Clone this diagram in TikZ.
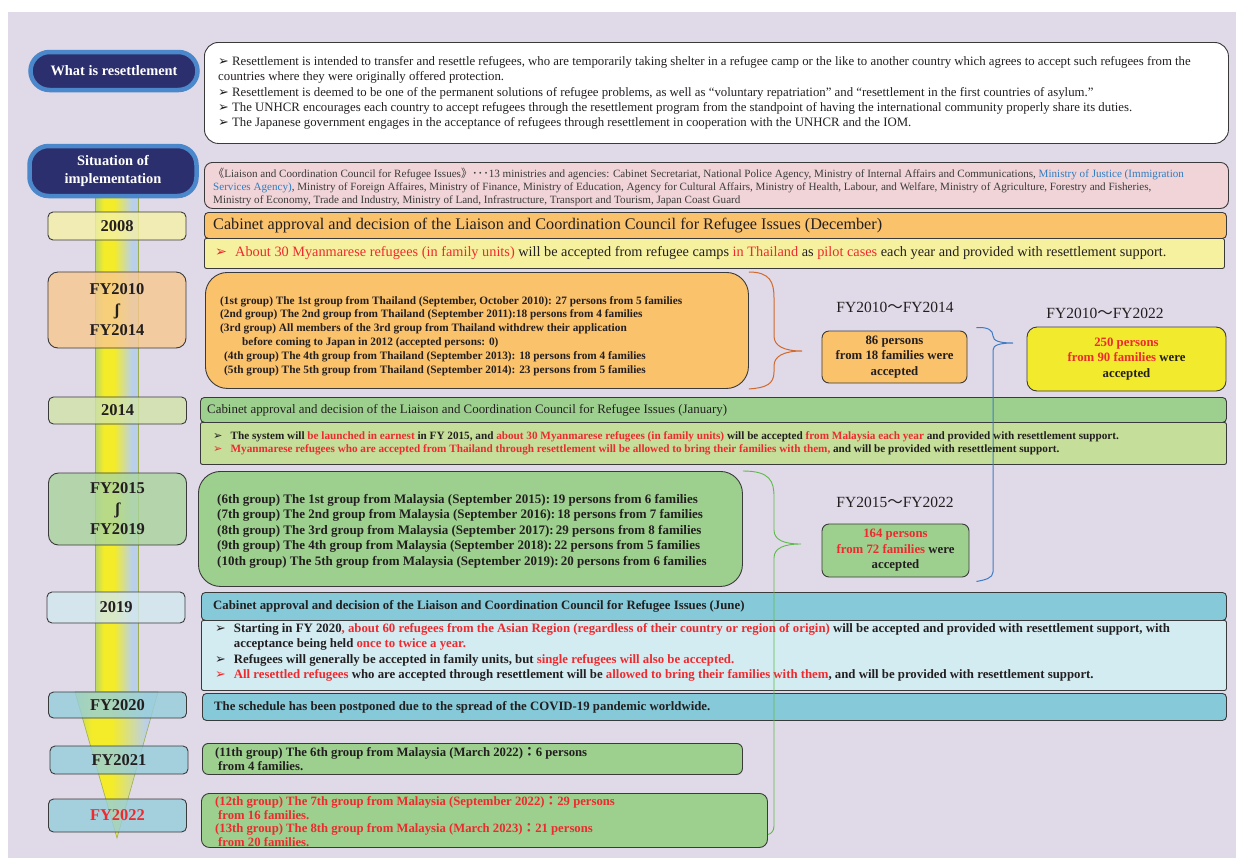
\documentclass[tikz,border=0pt]{standalone}
\usepackage{fontspec}
\setmainfont{Liberation Serif}
\newfontfamily\cjk{Noto Sans CJK JP}
\newfontfamily\dejavu{DejaVu Sans}
\usetikzlibrary{positioning,calc}

\definecolor{canvas}{HTML}{E0D9E7}
\definecolor{ink}{HTML}{231F20}
\definecolor{hot}{HTML}{EE2A2E}
\definecolor{navy}{HTML}{2C2F6D}
\definecolor{pillrim}{HTML}{4B88CB}
\definecolor{edge}{HTML}{3A3A3A}
\definecolor{pinkbg}{HTML}{F0D4D7}
\definecolor{greytxt}{HTML}{3B3B3B}
\definecolor{jblue}{HTML}{2F7DC1}
\definecolor{orangeH}{HTML}{FBC26C}
\definecolor{orangeY}{HTML}{F8C890}
\definecolor{yellowL}{HTML}{F6F19E}
\definecolor{yellowY}{HTML}{F5F1A6}
\definecolor{yellowS}{HTML}{F2EA2D}
\definecolor{greenH}{HTML}{9DD08E}
\definecolor{greenL}{HTML}{C5DF9A}
\definecolor{greenY}{HTML}{D2E4A9}
\definecolor{greenY2}{HTML}{AAD59D}
\definecolor{cyanH}{HTML}{86CAD9}
\definecolor{cyanL}{HTML}{D3ECF2}
\definecolor{cyanY}{HTML}{D3E8EF}
\definecolor{cyanY2}{HTML}{96CEDC}
\definecolor{barG}{HTML}{B8D66C}
\definecolor{barY}{HTML}{F4EC28}
\definecolor{barB}{HTML}{BAD0EA}
\definecolor{barE}{HTML}{9DAE4E}
\definecolor{braceO}{HTML}{D06A2E}
\definecolor{braceB}{HTML}{3F7CC4}
\definecolor{braceG}{HTML}{5DBB4A}

\pgfdeclarehorizontalshading{tlbar}{100bp}{color(0bp)=(barG); color(25bp)=(barG); color(35bp)=(barY); color(47bp)=(barY); color(68bp)=(barB); color(75bp)=(barB); color(100bp)=(barB)}

\newcommand{\fs}[2]{\fontsize{#1}{#2}\selectfont}
\newcommand{\rd}[1]{\textcolor{hot}{#1}}
\newcommand{\tbul}{{\dejavu\char"27A2}\ }
\newcommand{\bul}[1][ink]{\textcolor{#1}{\dejavu\char"27A2}\hspace{8pt}}
\newcommand{\nobul}{\phantom{\dejavu\char"27A2}\hspace{8pt}}

\begin{document}
\begin{tikzpicture}[
  x=1pt, y=-1pt,
  pill/.style={draw=pillrim, line width=4.5pt, fill=navy, rounded corners=19pt, text=white, align=center, minimum width=167pt, inner sep=0pt, font=\bfseries\fs{14.4}{18}},
  yearbox/.style={draw=edge, line width=0.9pt, rounded corners=5pt, fill opacity=0.8, text opacity=1, minimum width=138pt, inner sep=0pt, align=center, text=ink, font=\bfseries\fs{16.5}{20.5}},
  panel/.style={draw=edge, line width=0.9pt, rounded corners=4pt, anchor=north west, inner sep=0pt},
  txt/.style={inner sep=0pt, align=left, text=ink},
  span/.style={inner sep=0pt, text=ink, font=\fs{15.5}{17}},
  total/.style={draw=edge, line width=0.9pt, rounded corners=7pt, inner sep=0pt, align=center, text=ink, font=\bfseries\fs{12.8}{15.5}},
  obrace/.style={draw=braceO, line width=1pt},
  bbrace/.style={draw=braceB, line width=1pt},
  gbrace/.style={draw=braceG, line width=0.9pt}
]
\useasboundingbox (0,0) rectangle (1242,863);
\fill[white] (0,0) rectangle (1242,863);
\fill[canvas] (8,12) rectangle (1236,858);

% timeline bar
\shade[shading=tlbar, draw=barE, line width=0.5pt] (95,197) rectangle (138,692);
\shade[shading=tlbar, draw=barE, line width=0.6pt] (75,692) -- (158,692) -- (117,838) -- cycle;

% headings
\node[pill, minimum height=38pt] (pwhat) at (114,71) {What is resettlement};
\node[pill, minimum height=50pt] (psit) at (113,171) {Situation of\\implementation};

% year boxes
\node[yearbox, fill=yellowY, minimum height=28pt] (y2008) at (117,226) {2008};
\node[yearbox, fill=orangeY, minimum height=76pt, rounded corners=10pt] (yA) at (117,310) {FY2010\\ʃ\\FY2014};
\node[yearbox, fill=greenY, minimum height=27pt] (y2014) at (117.5,410.5) {2014};
\node[yearbox, fill=greenY2, minimum height=72pt, rounded corners=10pt] (yB) at (117.5,509) {FY2015\\ʃ\\FY2019};
\node[yearbox, fill=cyanY, minimum height=31pt] (y2019) at (116,607.5) {2019};
\node[yearbox, fill=cyanY2, minimum height=26pt] (y2020) at (117.5,705) {FY2020};
\node[yearbox, fill=cyanY2, minimum height=28pt] (y2021) at (119,760) {FY2021};
\node[yearbox, fill=cyanY2, minimum height=33pt] (y2022) at (117.5,815.5) {\rd{FY2022}};

% panels
\node[panel, fill=white, rounded corners=14pt, minimum width=1024pt, minimum height=101pt] (whatbox) at (204,42) {};
\node[panel, fill=pinkbg, rounded corners=8pt, minimum width=1024pt, minimum height=46pt] (council) at (204,162) {};
\node[panel, fill=orangeH, minimum width=1022pt, minimum height=26pt] (h2008) at (204,212) {};
\node[panel, fill=yellowL, rounded corners=2pt, minimum width=1020pt, minimum height=30pt] (b2008) at (204,238) {};
\node[panel, fill=orangeH, rounded corners=22pt, minimum width=543pt, minimum height=116pt] (fyA) at (205,272) {};
\node[panel, fill=greenH, minimum width=1026pt, minimum height=25pt] (h2014) at (200,397) {};
\node[panel, fill=greenL, rounded corners=2pt, minimum width=1026pt, minimum height=42pt] (b2014) at (200,422) {};
\node[panel, fill=greenH, rounded corners=22pt, minimum width=544pt, minimum height=115pt] (fyB) at (198,471) {};
\node[panel, fill=cyanH, minimum width=1025pt, minimum height=28pt] (h2019) at (201,592) {};
\node[panel, fill=cyanL, rounded corners=2pt, minimum width=1025pt, minimum height=70pt] (b2019) at (201,620) {};
\node[panel, fill=cyanH, minimum width=1024pt, minimum height=27pt] (c2020) at (202,693) {};
\node[panel, fill=greenH, rounded corners=6pt, minimum width=540pt, minimum height=31pt] (fyC) at (202,743) {};
\node[panel, fill=greenH, rounded corners=8pt, minimum width=566pt, minimum height=54pt] (fyD) at (201,793) {};

% totals
\node[total, fill=orangeH, minimum width=145pt, minimum height=52pt] (n86) at (894.5,357) {86 persons\\from 18 families were\\accepted};
\node[total, fill=yellowS, rounded corners=10pt, minimum width=199pt, minimum height=64pt] (n250) at (1126.5,359) {\rd{250 persons}\\\rd{from 90 families} were\\accepted};
\node[total, fill=greenH, minimum width=147pt, minimum height=53pt] (n164) at (895.5,550.5) {\rd{164 persons}\\\rd{from 72 families} were\\accepted};
\node[span] (spanA) at (895,307) {FY2010{\cjk ～}FY2014};
\node[span] (spanC) at (1105,313) {FY2010{\cjk ～}FY2022};
\node[span] (spanB) at (895,502) {FY2015{\cjk ～}FY2022};

% braces
\coordinate (otip) at (802,351);
\coordinate (btip) at (1013,343);
\coordinate (gtip) at (801,544);
\draw[obrace] (fyA.north east) .. controls (770,272) and (774,282) .. (774,298) -- (774,336) .. controls (774,346) and (784,351) .. (otip) .. controls (784,351) and (774,356) .. (774,366) -- (774,372) .. controls (774,384) and (766,388) .. (fyA.south east);
\draw[bbrace] ($(n86.north east)+(9,-3)$) .. controls (988,327) and (993,330) .. (993,336) .. controls (993,341) and (1000,343) .. (btip) .. controls (1000,343) and (993,345) .. (993,350) -- (993,572) .. controls (993,578) and (985,580) .. ($(n164.south east)+(7,4)$);
\draw[gbrace] (fyB.north east) .. controls (770,471) and (774,481) .. (774,497) -- (774,530) .. controls (774,540) and (784,544) .. (gtip) .. controls (784,544) and (774,548) .. (774,558) -- (774,826) .. controls (774,831) and (771,834) .. ($(fyD.east)+(0,14)$);

% texts
\node[txt, right=14pt of whatbox.west, font=\fs{12.8}{15.2}] (whattxt) {\tbul Resettlement is intended to transfer and resettle refugees, who are temporarily taking shelter in a refugee camp or the like to another country which agrees to accept such refugees from the\\countries where they were originally offered protection.\\\tbul Resettlement is deemed to be one of the permanent solutions of refugee problems, as well as “voluntary repatriation” and “resettlement in the first countries of asylum.”\\\tbul The UNHCR encourages each country to accept refugees through the resettlement program from the standpoint of having the international community properly share its duties.\\\tbul The Japanese government engages in the acceptance of refugees through resettlement in cooperation with the UNHCR and the IOM.};
\node[txt, right=9pt of council.west, yshift=-2pt, text=greytxt, font=\fs{11.1}{13}] (counciltxt) {{\cjk 《}Liaison and Coordination Council for Refugee Issues{\cjk 》･･･}13 ministries and agencies: Cabinet Secretariat, National Police Agency, Ministry of Internal Affairs and Communications, \textcolor{jblue}{Ministry of Justice (Immigration}\\\textcolor{jblue}{Services Agency)}, Ministry of Foreign Affaires, Ministry of Finance, Ministry of Education, Agency for Cultural Affairs, Ministry of Health, Labour, and Welfare, Ministry of Agriculture, Forestry and Fisheries,\\Ministry of Economy, Trade and Industry, Ministry of Land, Infrastructure, Transport and Tourism, Japan Coast Guard};
\node[txt, right=9pt of h2008.west, font=\fs{16.2}{18}] (h2008txt) {Cabinet approval and decision of the Liaison and Coordination Council for Refugee Issues (December)};
\node[txt, right=11pt of b2008.west, font=\fs{14.3}{16}] (b2008txt) {\bul[hot]\rd{About 30 Myanmarese refugees (in family units)} will be accepted from refugee camps \rd{in Thailand} as \rd{pilot cases} each year and provided with resettlement support.};
\node[txt, right=15pt of fyA.west, yshift=-5.5pt, font=\bfseries\fs{11.3}{13.8}] (fyAtxt) {(1st group) The 1st group from Thailand (September, October 2010): 27 persons from 5 families\\(2nd group) The 2nd group from Thailand (September 2011):18 persons from 4 families\\(3rd group) All members of the 3rd group from Thailand withdrew their application\\\hspace*{22pt}before coming to Japan in 2012 (accepted persons: 0)\\\hspace*{4pt}(4th group) The 4th group from Thailand (September 2013): 18 persons from 4 families\\\hspace*{4pt}(5th group) The 5th group from Thailand (September 2014): 23 persons from 5 families};
\node[txt, right=7pt of h2014.west, font=\fs{12.9}{14}] (h2014txt) {Cabinet approval and decision of the Liaison and Coordination Council for Refugee Issues (January)};
\node[txt, right=13pt of b2014.west, font=\bfseries\fs{11.2}{13}] (b2014txt) {\bul The system will \rd{be launched in earnest} in FY 2015, and \rd{about 30 Myanmarese refugees (in family units)} will be accepted \rd{from Malaysia each year} and provided with resettlement support.\\\bul[hot]\rd{Myanmarese refugees who are accepted from Thailand through resettlement will be allowed to bring their families with them,} and will be provided with resettlement support.};
\node[txt, right=19pt of fyB.west, yshift=-2pt, font=\bfseries\fs{13}{15.5}] (fyBtxt) {(6th group) The 1st group from Malaysia (September 2015):\,19 persons from 6 families\\(7th group) The 2nd group from Malaysia (September 2016):\,18 persons from 7 families\\(8th group) The 3rd group from Malaysia (September 2017):\,29 persons from 8 families\\(9th group) The 4th group from Malaysia (September 2018):\,22 persons from 5 families\\(10th group) The 5th group from Malaysia (September 2019):\,20 persons from 6 families};
\node[txt, right=12pt of h2019.west, font=\bfseries\fs{12.8}{14}] (h2019txt) {Cabinet approval and decision of the Liaison and Coordination Council for Refugee Issues (June)};
\node[txt, right=14pt of b2019.west, yshift=3pt, font=\bfseries\fs{12.8}{15.3}] (b2019txt) {\bul Starting in FY 2020\rd{, about 60 refugees from the Asian Region (regardless of their country or region of origin)} will be accepted and provided with resettlement support, with\\\nobul acceptance being held \rd{once to twice a year.}\\\bul Refugees will generally be accepted in family units, but \rd{single refugees will also be accepted.}\\\bul[hot]\rd{All resettled refugees} who are accepted through resettlement will be \rd{allowed to bring their families with them}, and will be provided with resettlement support.};
\node[txt, right=12pt of c2020.west, font=\bfseries\fs{12.8}{14}] (c2020txt) {The schedule has been postponed due to the spread of the COVID-19 pandemic worldwide.};
\node[txt, right=13pt of fyC.west, font=\bfseries\fs{12.75}{14.5}] (fyCtxt) {(11th group) The 6th group from Malaysia (March 2022){\cjk ：}6 persons\\\hspace*{3pt}from 4 families.};
\node[txt, right=14pt of fyD.west, yshift=-1pt, text=hot, font=\bfseries\fs{12.7}{13.7}] (fyDtxt) {(12th group) The 7th group from Malaysia (September 2022){\cjk ：}29 persons\\\hspace*{3pt}from 16 families.\\(13th group) The 8th group from Malaysia (March 2023){\cjk ：}21 persons\\\hspace*{3pt}from 20 families.};
\end{tikzpicture}
\end{document}
